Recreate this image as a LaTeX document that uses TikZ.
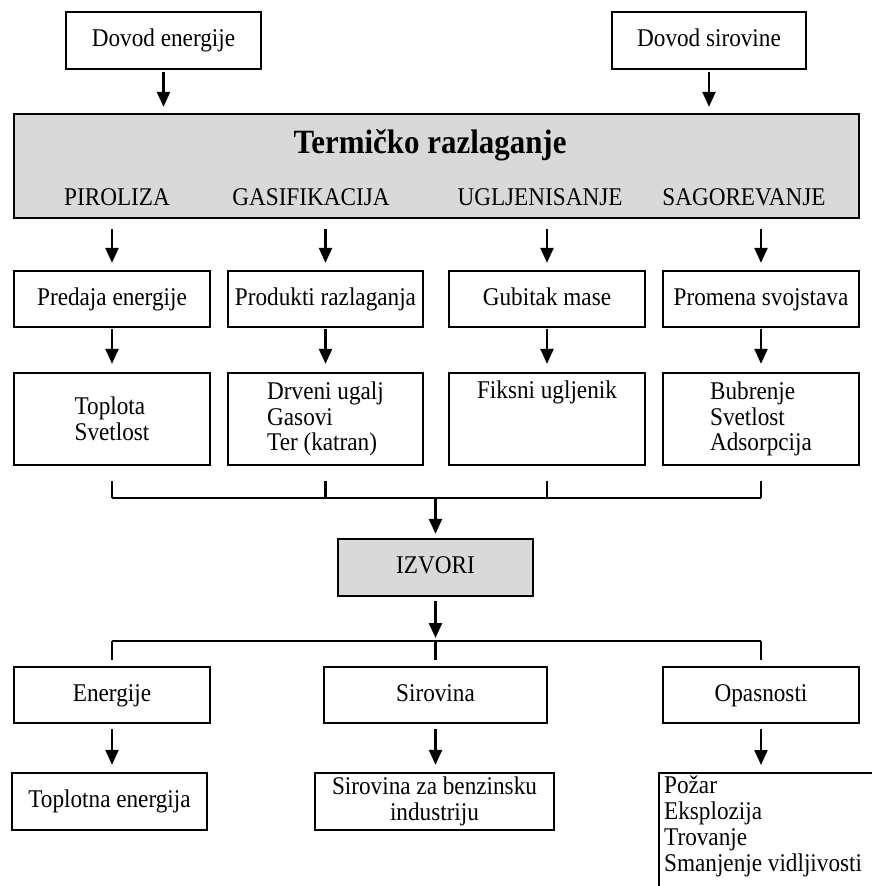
\documentclass[tikz,border=0pt]{standalone}
\usepackage{fontspec}
\setmainfont{Liberation Serif}[FakeStretch=0.91]
\usetikzlibrary{arrows.meta}

\definecolor{boxgray}{RGB}{217,217,217}

\tikzset{
  box/.style={draw, line width=2.3pt, minimum height=56pt, inner sep=2pt,
    font=\fontsize{25.5}{25.5}\selectfont},
  onebox/.style={box, text height=18pt, text depth=6pt},
  graybox/.style={onebox, fill=boxgray},
  lbl/.style={font=\fontsize{25.5}{25.5}\selectfont, inner sep=0pt},
  conn/.style={line width=2.3pt},
  arr/.style={conn, -{Triangle[length=15pt,width=13pt]}, shorten >=7pt, shorten <=3pt},
}

\begin{document}
\begin{tikzpicture}[x=1pt, y=-1pt]
    \useasboundingbox (0,0) rectangle (872,886);
    \clip (0,0) rectangle (872,886);

    % Inputs
    \node[onebox, minimum width=195pt, minimum height=57pt] (dovE) at (163.5,40.5) {Dovod energije};
    \node[onebox, minimum width=194pt, minimum height=57pt] (dovS) at (709,40.5) {Dovod sirovine};

    % Thermal decomposition
    \node[graybox, minimum width=845pt, minimum height=104pt] (term) at (436.5,166) {};
    \node[anchor=base, inner sep=0pt, font=\fontsize{34}{36}\selectfont\bfseries] (title) at (430,153) {Termičko razlaganje};
    \foreach \n/\x/\t in {pir/117/PIROLIZA, gas/311/GASIFIKACIJA, ugl/540/UGLJENISANJE, sag/744/SAGOREVANJE}
        \node[lbl, anchor=base] (\n) at (\x,205) {\t};

    \draw[arr, shorten <=2pt, shorten >=6pt] (dovE) -- (dovE.south |- term.north);
    \draw[arr, shorten <=2pt, shorten >=6pt] (dovS) -- (dovS.south |- term.north);

    % First row
    \foreach \n/\x/\w/\t in {a/112/196pt/Predaja energije, b/325.5/195pt/Produkti razlaganja,
                             c/547/196pt/Gubitak mase, d/761/196pt/Promena svojstava} {
        \node[onebox, minimum width=\w] (r1\n) at (\x,299) {\t};
    }

    % Second row
    \node[box, minimum width=196pt, minimum height=92pt, align=left] (r2a) at (112,419) {Toplota\\Svetlost};
    \node[box, minimum width=195pt, minimum height=92pt, align=left] (r2b) at (325.5,419) {Drveni ugalj\\Gasovi\\Ter (katran)};
    \node[box, minimum width=196pt, minimum height=92pt, align=center] (r2c) at (547,419) {Fiksni ugljenik\\\strut\\\strut};
    \node[box, minimum width=196pt, minimum height=92pt, align=left] (r2d) at (761,419) {Bubrenje\\Svetlost\\Adsorpcija};

    \foreach \n in {a,b,c,d} {
        \draw[arr, shorten <=10pt] (term.south -| r1\n.north) -- (r1\n.north);
        \draw[arr, shorten <=1pt, shorten >=8pt] (r1\n) -- (r1\n.south |- r2\n.north);
    }

    % Sources
    \coordinate (join) at (435.5,498);
    \coordinate (split) at (435.5,641);
    \node[graybox, minimum width=195pt, minimum height=57pt] (izv) at (435.5,567.5) {IZVORI};

    \foreach \n in {a,b,c,d}
        \draw[conn] ([yshift=-15pt]r2\n.south) -- (r2\n.south |- join);
    \draw[conn] (r2a.south |- join) -- (r2d.south |- join);
    \draw[arr, shorten <=0pt, shorten >=4pt] (join) -- (izv);
    \draw[arr, shorten <=4pt, shorten >=3pt] (izv) -- (split);

    % Third row
    \node[onebox, minimum width=196pt] (r3a) at (112,695) {Energije};
    \node[onebox, minimum width=223pt] (r3b) at (435.5,695) {Sirovina};
    \node[onebox, minimum width=196pt] (r3c) at (761,695) {Opasnosti};

    \draw[conn] (r3a.north |- split) -- (r3c.north |- split);
    \foreach \n in {a,b,c}
        \draw[conn] (r3\n.north |- split) -- ([yshift=6pt]r3\n.north);

    % Fourth row
    \node[onebox, minimum width=195pt, minimum height=57pt] (r4a) at (109.5,801.5) {Toplotna energija};
    \node[box, minimum width=239pt, minimum height=57pt, align=center] (r4b) at (434.5,801.5) {Sirovina za benzinsku\\industriju};
    \node[box, anchor=north west, text width=232pt, align=flush left, inner xsep=5pt, inner ysep=3pt,
          font=\fontsize{25.5}{26}\selectfont] (r4c) at (658,772)
        {Požar\\Eksplozija\\Trovanje\\Smanjenje vidljivosti\\\strut};

    \foreach \n in {a,b,c}
        \draw[arr, shorten <=5pt] (r3\n.south) -- (r3\n.south |- r4\n.north);

\end{tikzpicture}
\end{document}
